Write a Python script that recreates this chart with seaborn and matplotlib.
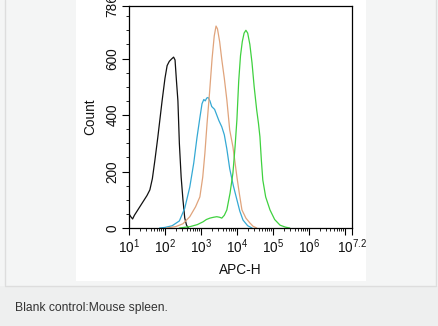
import numpy as np
import pandas as pd
import matplotlib
matplotlib.use("Agg")
import matplotlib.pyplot as plt
from matplotlib.patches import Rectangle
from matplotlib.lines import Line2D
import seaborn as sns

# ---- data (log10 of APC-H, count) ----
black_x = [1.0, 1.05, 1.1, 1.15, 1.2, 1.3, 1.4, 1.5, 1.58, 1.65, 1.72, 1.8, 1.86, 1.92, 2.0, 2.06,
           2.12, 2.18, 2.24, 2.28, 2.32, 2.36, 2.4, 2.45, 2.5, 2.55, 2.6, 2.65]
black_y = [50, 40, 32, 45, 55, 75, 95, 115, 135, 175, 240, 320, 385, 450, 530, 575,
           590, 598, 605, 595, 520, 450, 300, 180, 100, 35, 10, 0]

blue_x = [1.85, 2.0, 2.2, 2.4, 2.55, 2.69, 2.8, 2.89, 2.97, 3.03, 3.08, 3.12, 3.16, 3.2, 3.25, 3.3,
          3.38, 3.44, 3.5, 3.58, 3.65, 3.72, 3.8, 3.9, 4.0, 4.08, 4.17, 4.3, 4.42]
blue_y = [0, 2, 8, 25, 70, 145, 230, 320, 390, 440, 455, 450, 460, 462, 450, 430,
          420, 400, 380, 358, 330, 280, 210, 150, 100, 60, 28, 8, 0]

orange_x = [2.05, 2.3, 2.5, 2.69, 2.85, 2.97, 3.05, 3.11, 3.17, 3.24, 3.31, 3.37, 3.42, 3.46, 3.52,
            3.58, 3.65, 3.72, 3.8, 3.89, 3.95, 4.0, 4.07, 4.14, 4.25, 4.36, 4.45, 4.55]
orange_y = [0, 5, 15, 40, 75, 110, 180, 265, 370, 480, 600, 680, 715, 705, 660,
            596, 530, 454, 347, 287, 230, 181, 120, 64, 35, 18, 6, 0]

green_x = [2.4, 2.7, 2.9, 3.06, 3.15, 3.25, 3.35, 3.44, 3.52, 3.58, 3.65, 3.72, 3.81, 3.89, 3.95,
           4.0, 4.05, 4.1, 4.15, 4.2, 4.25, 4.3, 4.36, 4.42, 4.48, 4.55, 4.6, 4.64, 4.68, 4.72,
           4.8, 4.92, 5.05, 5.2, 5.35, 5.47]
green_y = [0, 5, 12, 22, 30, 35, 38, 40, 38, 35, 45, 64, 124, 195, 290,
           383, 520, 610, 660, 690, 700, 690, 650, 585, 500, 418, 370, 323, 240, 170,
           110, 64, 30, 10, 3, 0]

x_ticks = [1, 2, 3, 4, 5, 6, 7, 7.2]
x_tick_labels = ["$10^{1}$", "$10^{2}$", "$10^{3}$", "$10^{4}$", "$10^{5}$", "$10^{6}$", "", "$10^{7.2}$"]
y_ticks = [0, 200, 400, 600, 786]
caption = "Blank control:Mouse spleen."

series = {"blank": (black_x, black_y), "blue": (blue_x, blue_y),
          "orange": (orange_x, orange_y), "green": (green_x, green_y)}
colors = {"blank": "#111111", "blue": "#35a9d4", "orange": "#e0a47c", "green": "#3fd13f"}

frames = []
for name, (xs, ys) in series.items():
    frames.append(pd.DataFrame({"x": xs, "y": ys, "s": name}))
df = pd.concat(frames, ignore_index=True)

sns.set_style("white")
plt.rcParams["font.family"] = ["Liberation Sans", "DejaVu Sans"]
plt.rcParams["mathtext.fontset"] = "custom"
plt.rcParams["mathtext.rm"] = "Liberation Sans"
plt.rcParams["mathtext.it"] = "Liberation Sans"

W, H = 438, 326
fig = plt.figure(figsize=(W / 100, H / 100), dpi=100, facecolor="#f4f5f5")

def px(x0, y0, w, h, **kw):
    fig.patches.append(Rectangle((x0 / W, 1 - (y0 + h) / H), w / W, h / H,
                                 transform=fig.transFigure, **kw))

# caption strip and white panel
px(0, 286, W, H - 286, facecolor="#eeefef", edgecolor="none", zorder=-5)
px(76, 0, 290, 281, facecolor="white", edgecolor="none", zorder=-5)
fig.lines.append(Line2D([5 / W, 5 / W], [1 - 285 / H, 1], transform=fig.transFigure, color="#dddddd", lw=1, zorder=-4))
fig.lines.append(Line2D([436 / W, 436 / W], [1 - 285 / H, 1], transform=fig.transFigure, color="#dddddd", lw=1, zorder=-4))
fig.lines.append(Line2D([5 / W, 436 / W], [1 - 285.5 / H, 1 - 285.5 / H], transform=fig.transFigure, color="#dddddd", lw=1, zorder=-4))
fig.text(15 / W, 1 - 308 / H, caption, fontsize=8.7, color="#333333", va="center", ha="left")

ax = fig.add_axes([129 / W, 1 - 228 / H, 223 / W, 222 / H])
ax.set_zorder(5)
ax.set_facecolor("white")
for name in series:
    sub = df[df.s == name]
    sns.lineplot(data=sub, x="x", y="y", color=colors[name], sort=False, estimator=None,
                 lw=0.9, ax=ax, legend=False)

ax.set_xlim(1, 7.2)
ax.set_ylim(0, 786)
ax.set_xticks(x_ticks)
ax.set_xticklabels(x_tick_labels)
minor_x = [d + np.log10(k) for d in range(1, 8) for k in range(2, 10) if d + np.log10(k) < 7.2]
ax.set_xticks(minor_x, minor=True)
ax.set_yticks(y_ticks)
ax.set_yticklabels([str(v) for v in y_ticks], rotation=90, va="center")
ax.set_yticks([v for v in range(50, 786, 50) if v % 200 != 0], minor=True)
ax.tick_params(axis="both", which="major", direction="out", length=5, width=0.8, color="black",
               labelsize=9.8, pad=2, labelcolor="#111111")
ax.tick_params(axis="both", which="minor", direction="out", length=2.5, width=0.6, color="black")
ax.tick_params(bottom=True, left=True, which="both")
for sp in ax.spines.values():
    sp.set_visible(True)
    sp.set_color("black")
    sp.set_linewidth(0.9)
ax.set_xlabel("APC-H", fontsize=9.8, labelpad=5, color="#111111")
ax.set_ylabel("Count", fontsize=9.8, labelpad=6, color="#111111")

fig.savefig("out.png", dpi=100, facecolor=fig.get_facecolor())
